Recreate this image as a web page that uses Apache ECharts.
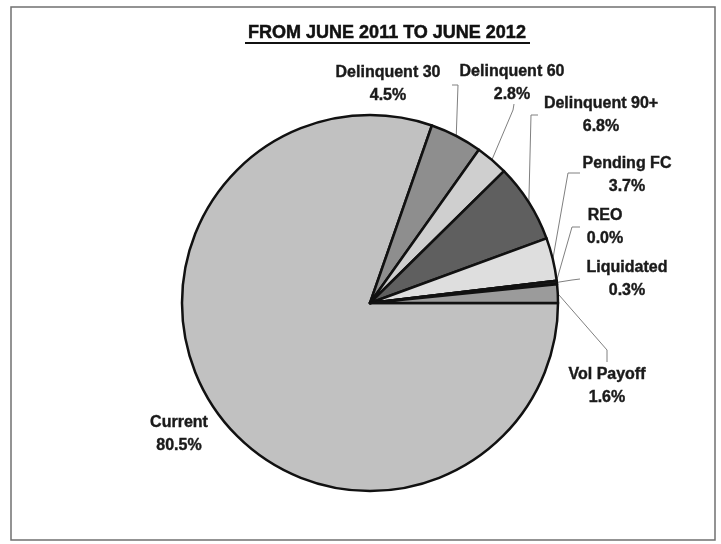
<!DOCTYPE html>
<html>
<head>
<meta charset="utf-8">
<script src="https://cdn.jsdelivr.net/npm/echarts@6/dist/echarts.min.js"></script>
<style>
  html, body { margin: 0; padding: 0; background: #ffffff; }
  #chart { width: 721px; height: 544px; }
</style>
</head>
<body>
<div id="chart"></div>
<script>
// Loan status shares, June 2011 to June 2012 (percent)
const categories = ['Current', 'Delinquent 30', 'Delinquent 60', 'Delinquent 90+', 'Pending FC', 'REO', 'Liquidated', 'Vol Payoff'];
const shares = [80.5, 4.5, 2.8, 6.8, 3.7, 0.0, 0.3, 1.6];
const titleText = 'FROM JUNE 2011 TO JUNE 2012';

// Slice fills, one per category
const sliceColors = ['#c1c1c1', '#8e8e8e', '#cfcfcf', '#5f5f5f', '#dedede', '#bdbdbd', '#1e1e1e', '#9b9b9b'];

// Where each two-line label sits (its centre) and how its leader line bends towards it
const labelPlacement = {
  'Current':        { x: 179, y: 434 },
  'Delinquent 30':  { x: 388, y: 84,  bend: [458, 85],  end: [452, 85] },
  'Delinquent 60':  { x: 512, y: 83,  bend: [513, 110], end: [514, 104] },
  'Delinquent 90+': { x: 601, y: 115, bend: [531, 115], end: [538, 115] },
  'Pending FC':     { x: 627, y: 175, bend: [568, 173], end: [580, 173] },
  'REO':            { x: 605, y: 227, bend: [572, 227], end: [580, 227] },
  'Liquidated':     { x: 627, y: 279, bend: [572, 280], end: [580, 279] },
  'Vol Payoff':     { x: 607, y: 386, bend: [607, 350], end: [607, 362] }
};

const FONT = 'Arial, "Liberation Sans", Helvetica, sans-serif';

const chart = echarts.init(document.getElementById('chart'), null, { renderer: 'canvas' });

const pieData = categories.map((name, i) => ({
  name: name,
  value: shares[i],
  itemStyle: { color: sliceColors[i] },
  labelLine: { show: name !== 'Current' }
}));

chart.setOption({
  backgroundColor: '#ffffff',
  animation: false,
  graphic: [
    {
      type: 'rect',
      shape: { x: 11, y: 7, width: 704, height: 533 },
      style: { fill: 'none', stroke: '#707070', lineWidth: 1.5 },
      z: 0
    },
    {
      type: 'text',
      x: 387, y: 33,
      style: {
        text: titleText,
        font: 'bold 18px ' + FONT,
        fill: '#111111',
        stroke: '#111111',
        lineWidth: 0.5,
        align: 'center',
        verticalAlign: 'middle'
      },
      z: 10
    },
    {
      type: 'line',
      shape: { x1: 245, y1: 43, x2: 530, y2: 43 },
      style: { stroke: '#111111', lineWidth: 2 },
      z: 10
    }
  ],
  series: [{
    type: 'pie',
    center: [370, 303],
    radius: 188,
    startAngle: 0,
    clockwise: true,
    avoidLabelOverlap: false,
    data: pieData,
    itemStyle: { borderColor: '#111111', borderWidth: 2.5 },
    emphasis: { disabled: true },
    label: {
      show: true,
      position: 'outside',
      formatter: p => p.name + '\n' + Number(p.value).toFixed(1) + '%',
      fontFamily: FONT,
      fontWeight: 'bold',
      fontSize: 16,
      lineHeight: 23,
      color: '#1a1a1a',
      textBorderColor: '#1a1a1a',
      textBorderWidth: 0.4,
      align: 'center'
    },
    labelLine: {
      show: true,
      length: 10,
      length2: 10,
      smooth: false,
      lineStyle: { color: '#808080', width: 1 }
    },
    labelLayout: function (params) {
      const name = categories[params.dataIndex];
      const place = labelPlacement[name];
      const out = { x: place.x, y: place.y, align: 'center', verticalAlign: 'middle' };
      if (place.bend && params.labelLinePoints) {
        out.labelLinePoints = [params.labelLinePoints[0], place.bend, place.end];
      }
      return out;
    }
  }]
});
</script>
</body>
</html>
